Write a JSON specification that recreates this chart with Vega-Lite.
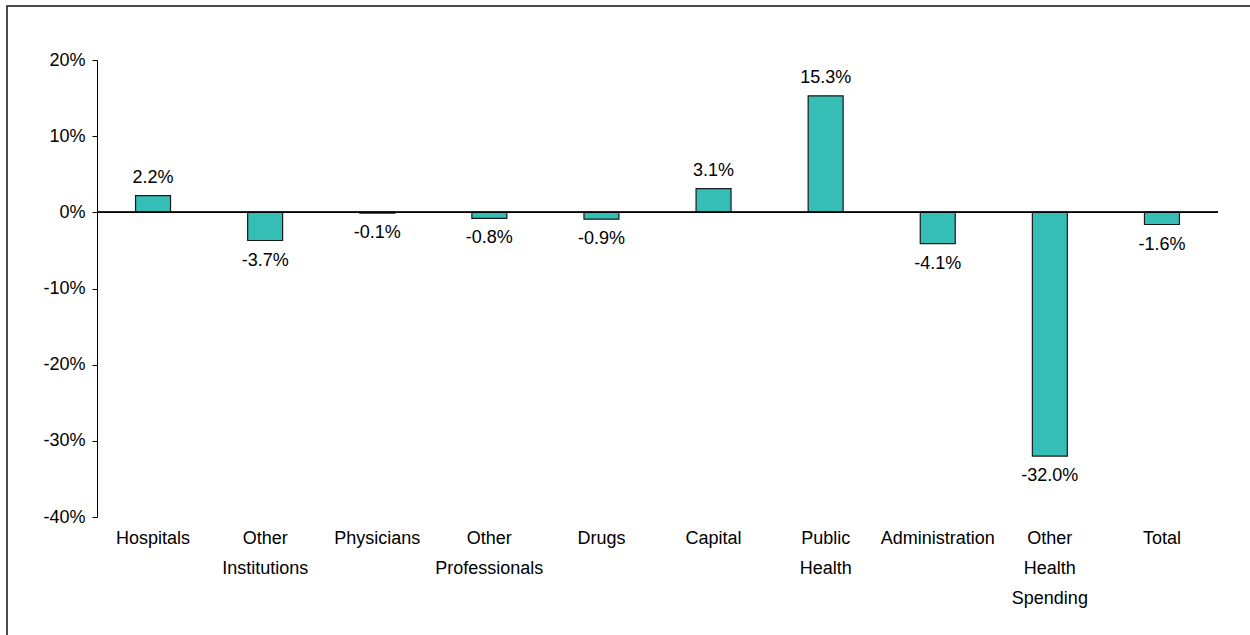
{
  "$schema": "https://vega.github.io/schema/vega-lite/v6.json",
  "width": 1245,
  "height": 631,
  "autosize": {"type": "none"},
  "padding": {"left": 7, "top": 6, "right": -2, "bottom": -2},
  "background": "#ffffff",
  "config": {
    "view": {"stroke": "#111111", "strokeWidth": 1.5},
    "font": "Liberation Sans",
    "locale": {"number": {"decimal": ".", "thousands": ",", "grouping": [3], "currency": ["$", ""], "minus": "-"}}
  },
  "data": {
    "values": [
      {"cat": "Hospitals", "v": 0.022},
      {"cat": "Other Institutions", "v": -0.037},
      {"cat": "Physicians", "v": -0.001},
      {"cat": "Other Professionals", "v": -0.008},
      {"cat": "Drugs", "v": -0.009},
      {"cat": "Capital", "v": 0.031},
      {"cat": "Public Health", "v": 0.153},
      {"cat": "Administration", "v": -0.041},
      {"cat": "Other Health Spending", "v": -0.32},
      {"cat": "Total", "v": -0.016}
    ]
  },
  "layer": [
    {
      "encoding": {
        "x": {
          "field": "cat",
          "type": "nominal",
          "sort": null,
          "scale": {"range": [90, 1211], "paddingInner": 0.688, "paddingOuter": 0.344},
          "axis": {
            "orient": "bottom",
            "offset": -120,
            "domain": false,
            "ticks": false,
            "labelAngle": 0,
            "labelExpr": "split(datum.label, ' ')",
            "labelFontSize": 18,
            "labelColor": "#000000",
            "labelPadding": 12,
            "labelLineHeight": 30,
            "labelBaseline": "top",
            "labelLimit": 0,
            "title": null
          }
        },
        "y": {
          "field": "v",
          "type": "quantitative",
          "scale": {"domain": [-0.4, 0.2], "range": [511, 54], "nice": false, "zero": false},
          "axis": {
            "orient": "left",
            "offset": -90,
            "values": [-0.4, -0.3, -0.2, -0.1, 0, 0.1, 0.2],
            "format": ".0%",
            "grid": false,
            "domainColor": "#000000",
            "tickColor": "#000000",
            "tickSize": 5,
            "labelFontSize": 18,
            "labelColor": "#000000",
            "labelPadding": 7,
            "title": null
          }
        }
      },
      "layer": [
        {
          "mark": {"type": "bar", "fill": "#34beb5", "stroke": "#1a1a1a", "strokeWidth": 1.2}
        },
        {
          "transform": [{"filter": "datum.v >= 0"}],
          "mark": {"type": "text", "baseline": "alphabetic", "dy": -13, "fontSize": 18, "color": "#000000"},
          "encoding": {"text": {"field": "v", "type": "quantitative", "format": ".1%"}}
        },
        {
          "transform": [{"filter": "datum.v < 0"}],
          "mark": {"type": "text", "baseline": "top", "dy": 11, "fontSize": 18, "color": "#000000"},
          "encoding": {"text": {"field": "v", "type": "quantitative", "format": ".1%"}}
        }
      ]
    },
    {
      "mark": {"type": "rule", "color": "#000000", "strokeWidth": 1},
      "encoding": {
        "x": {"datum": 0, "type": "quantitative", "scale": {"domain": [0, 1], "range": [90, 1211]}, "axis": null},
        "x2": {"datum": 1},
        "y": {"datum": 0, "type": "quantitative"}
      }
    }
  ],
  "resolve": {"scale": {"x": "independent"}, "axis": {"x": "independent"}}
}
